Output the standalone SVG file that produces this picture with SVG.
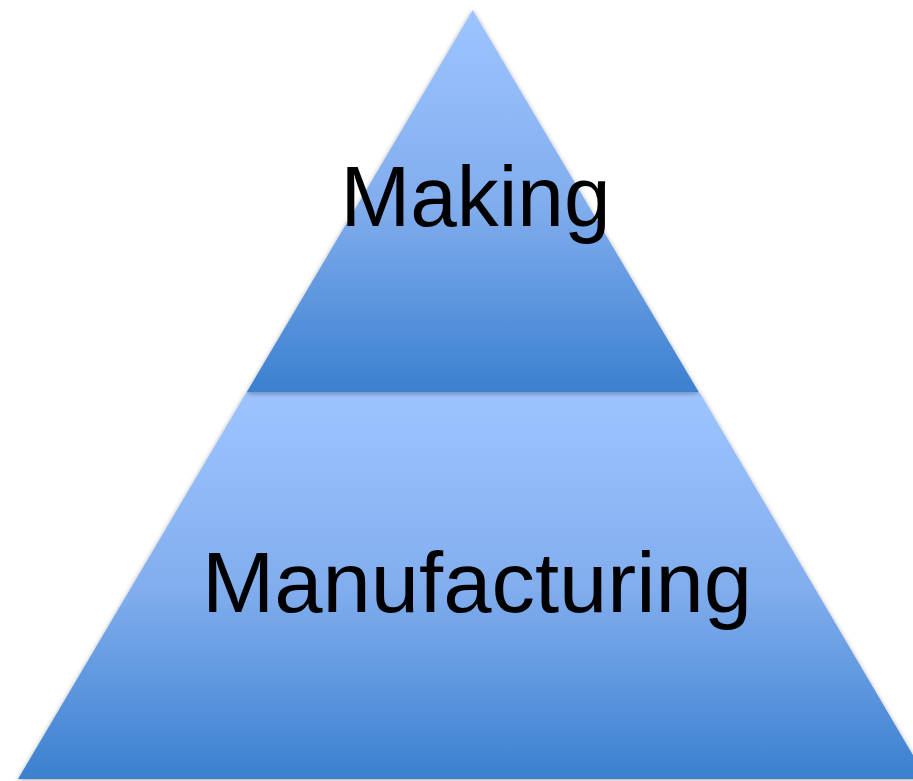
<svg xmlns="http://www.w3.org/2000/svg" width="913" height="781" viewBox="0 0 913 781">
  <defs>
    <linearGradient id="g" x1="0" y1="0" x2="0" y2="1">
      <stop offset="0" stop-color="#9DC4FF"/>
      <stop offset="0.5" stop-color="#82AEEE"/>
      <stop offset="1" stop-color="#3B80CF"/>
    </linearGradient>
    <filter id="sh" x="-5%" y="-5%" width="110%" height="110%">
      <feGaussianBlur in="SourceAlpha" stdDeviation="2.5"/>
      <feOffset dx="0" dy="1" result="b"/>
      <feComponentTransfer><feFuncA type="linear" slope="0.35"/></feComponentTransfer>
      <feMerge><feMergeNode/><feMergeNode in="SourceGraphic"/></feMerge>
    </filter>
    <style>
      .lbl { font-family: "Liberation Sans", Arial, sans-serif; font-size: 85px; fill: #000; text-anchor: middle; }
    </style>
  </defs>
  <rect width="913" height="781" fill="#fff"/>
  <g id="manufacturing">
    <polygon points="246,393 700,393 927,779 18,779" fill="url(#g)" filter="url(#sh)"/>
    <text class="lbl" x="477" y="612" textLength="550" lengthAdjust="spacingAndGlyphs">Manufacturing</text>
  </g>
  <g id="making">
    <polygon points="472.7,10 699,392.5 246.5,392.5" fill="url(#g)" filter="url(#sh)"/>
    <text class="lbl" x="475.5" y="226" textLength="270" lengthAdjust="spacingAndGlyphs">Making</text>
  </g>
  <g id="connectors"/>
</svg>
